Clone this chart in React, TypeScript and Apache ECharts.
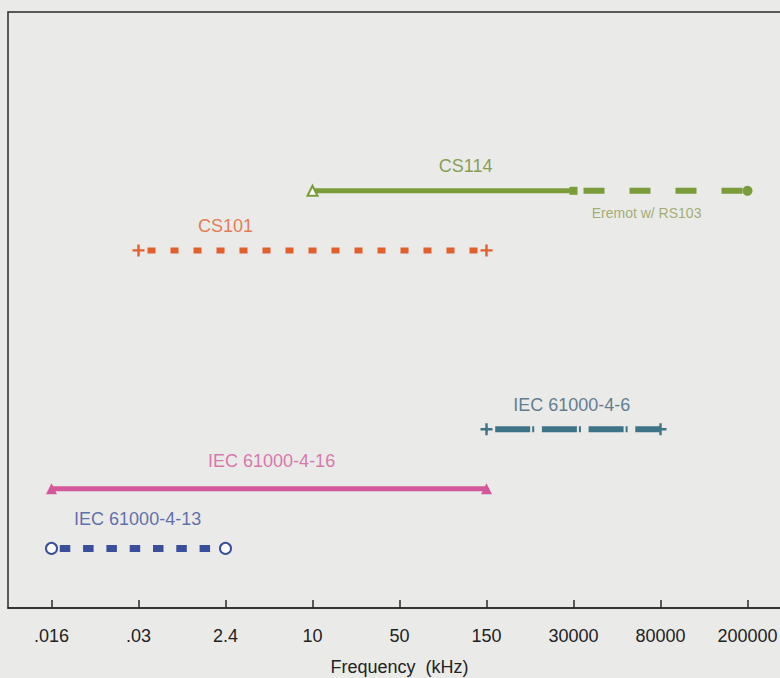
import React, { useEffect, useRef } from "react";
import * as echarts from "echarts";

// Frequency categories (kHz), shown evenly spaced
const categories = [".016", ".03", "2.4", "10", "50", "150", "30000", "80000", "200000"];

// Test ranges as [startIndex, endIndex] on the category axis, plus row level
const cs114Solid = [3, 6];
const cs114Remote = [6, 8];
const cs114Level = 7;
const cs101Range = [1, 5];
const cs101Level = 6;
const iec4_6Range = [5, 7];
const iec4_6Level = 3;
const iec4_16Range = [0, 5];
const iec4_16Level = 2;
const iec4_13Range = [0, 2];
const iec4_13Level = 1;

// Annotation texts
const labelTexts = ["CS114", "Eremot w/ RS103", "CS101", "IEC 61000-4-6", "IEC 61000-4-16", "IEC 61000-4-13"];
// Annotation anchor points [xIndex, level]
const labelAnchors = [
  [4.76, 7.42],
  [6.84, 6.63],
  [2.0, 6.41],
  [5.98, 3.41],
  [2.53, 2.47],
  [0.99, 1.49],
];

const FONT = "'Liberation Sans', Arial, sans-serif";
const crossPath = "path://M4,0h2v4h4v2h-4v4h-2v-4h-4v-2h4z";

const colors = {
  cs114: "#7b9c3b",
  cs114Text: "#6c8a2c",
  remoteText: "#8f9d55",
  cs101: "#e1602e",
  iec46: "#3f7486",
  iec46Text: "#3b5f78",
  iec416: "#d3589b",
  iec413: "#3a4e9c",
};

function seg(range: number[], level: number) {
  return [
    [range[0], level],
    [range[1], level],
  ];
}

export default function App() {
  const ref = useRef<HTMLDivElement>(null);
  useEffect(() => {
    if (!ref.current) return;
    const chart = echarts.init(ref.current, undefined, { renderer: "svg" });
    const labelColors = [colors.cs114Text, colors.remoteText, colors.cs101, colors.iec46Text, colors.iec416, colors.iec413];
    const labelSizes = [18, 14, 18, 18, 18, 18];
    const option: any = {
      animation: false,
      backgroundColor: "#eaeae8",
      grid: {
        left: 8,
        top: 12,
        width: 783,
        height: 596,
        show: true,
        borderColor: "#2a2a2a",
        borderWidth: 1.5,
        backgroundColor: "transparent",
        outerBoundsMode: "none",
        containLabel: false,
      },
      xAxis: [
        {
          type: "category",
          data: categories,
          boundaryGap: true,
          axisLine: { lineStyle: { color: "#2a2a2a", width: 1.5 } },
          axisTick: {
            show: true,
            interval: 0,
            alignWithLabel: true,
            inside: true,
            length: 8,
            lineStyle: { color: "#2a2a2a", width: 1.5 },
          },
          axisLabel: { fontSize: 18, color: "#222", margin: 19, fontFamily: FONT, hideOverlap: false, interval: 0 },
          splitLine: { show: false },
          name: "Frequency  (kHz)",
          nameLocation: "middle",
          nameGap: 50,
          nameTextStyle: { fontSize: 18, color: "#222", fontFamily: FONT },
          z: 10,
        },
        { type: "value", min: -0.5, max: 8.5, show: false },
      ],
      yAxis: {
        type: "value",
        min: 0,
        max: 10,
        axisLine: { show: false, onZero: false },
        axisTick: { show: false },
        axisLabel: { show: false },
        splitLine: { show: false },
      },
      series: [
        {
          type: "line",
          xAxisIndex: 1,
          data: [
            { value: seg(cs114Solid, cs114Level)[0], symbol: "emptyTriangle", symbolSize: 10 },
            { value: seg(cs114Solid, cs114Level)[1], symbol: "rect", symbolSize: 8 },
          ],
          lineStyle: { color: colors.cs114, width: 5 },
          itemStyle: { color: colors.cs114, borderWidth: 1.5 },
          z: 3,
        },
        {
          type: "line",
          xAxisIndex: 1,
          data: [
            { value: seg(cs114Remote, cs114Level)[0], symbol: "none" },
            { value: seg(cs114Remote, cs114Level)[1], symbol: "circle", symbolSize: 10 },
          ],
          lineStyle: { color: colors.cs114, width: 6, type: [21, 25], dashOffset: 36, cap: "butt" },
          itemStyle: { color: colors.cs114 },
          z: 2,
        },
        {
          type: "line",
          xAxisIndex: 1,
          data: seg(cs101Range, cs101Level),
          symbol: crossPath,
          symbolSize: 12,
          lineStyle: { color: colors.cs101, width: 6, type: [8, 15], dashOffset: 14, cap: "butt" },
          itemStyle: { color: colors.cs101 },
        },
        {
          type: "line",
          xAxisIndex: 1,
          data: seg(iec4_6Range, iec4_6Level),
          symbol: crossPath,
          symbolSize: 12,
          lineStyle: { color: colors.iec46, width: 6, type: [35, 2, 2, 7.7], dashOffset: 37.7, cap: "butt" },
          itemStyle: { color: colors.iec46 },
        },
        {
          type: "line",
          xAxisIndex: 1,
          data: seg(iec4_16Range, iec4_16Level),
          symbol: "triangle",
          symbolSize: 11,
          lineStyle: { color: colors.iec416, width: 5 },
          itemStyle: { color: colors.iec416 },
        },
        {
          type: "line",
          xAxisIndex: 1,
          data: seg(iec4_13Range, iec4_13Level),
          symbol: "emptyCircle",
          symbolSize: 11,
          lineStyle: { color: colors.iec413, width: 7, type: [10.5, 12.8], dashOffset: 15.3, cap: "butt" },
          itemStyle: { color: colors.iec413, borderWidth: 1.5 },
        },
        {
          type: "scatter",
          xAxisIndex: 1,
          symbolSize: 0,
          silent: true,
          data: labelAnchors.map((p, i) => ({
            value: p,
            label: {
              show: true,
              position: "inside",
              formatter: labelTexts[i],
              color: labelColors[i],
              fontSize: labelSizes[i],
              fontFamily: FONT,
            },
          })),
        },
      ],
    };
    chart.setOption(option);
    return () => chart.dispose();
  }, []);
  return (
    <div
      ref={ref}
      style={{ position: "fixed", left: 0, top: 0, width: 780, height: 678 }}
    />
  );
}
